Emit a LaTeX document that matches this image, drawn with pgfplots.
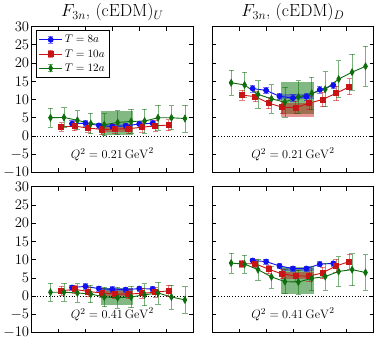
\documentclass[border=0pt]{standalone}
\usepackage{pgfplots}
\pgfplotsset{compat=1.18}
\usepgfplotslibrary{groupplots}
\definecolor{cb}{HTML}{1010F0}
\definecolor{cr}{HTML}{C81414}
\definecolor{cg}{HTML}{0E6E0E}
\definecolor{gband}{HTML}{2E8B2E}
\pgfplotsset{
  ebar/.style={error bars/.cd, y dir=both, y explicit,
    error bar style={line width=0.7pt, opacity=0.55},
    error mark options={rotate=90, mark size=2.6pt, line width=0.7pt, opacity=0.55}},
  s8/.style={color=cb, mark=*, mark size=2.4pt, line width=0.9pt, mark options={solid}, ebar},
  s10/.style={color=cr, mark=square*, mark size=2.5pt, line width=0.9pt, mark options={solid}, ebar},
  s12/.style={color=cg, mark=diamond*, mark size=3.2pt, line width=0.9pt, mark options={solid, xscale=0.75}, ebar},
  bandg/.style={fill=gband, fill opacity=0.6, draw=none, forget plot},
  bandr/.style={fill=cr, fill opacity=0.45, draw=none, forget plot},
  bandb/.style={fill=cb, fill opacity=0.35, draw=none, forget plot},
  zl/.style={black, dotted, line width=0.8pt, forget plot},
}
\tikzset{ql/.style={font=\fontsize{12.5}{14}\selectfont}}
\begin{document}
\begin{tikzpicture}
\begin{groupplot}[
  group style={group size=2 by 2, horizontal sep=19bp, vertical sep=14bp,
    y descriptions at=edge left},
  scale only axis, width=158bp, height=143bp,
  xmin=0, xmax=6, ymin=-10, ymax=30,
  xtick={1,2,3,4,5}, xticklabels={},
  ytick={-10,-5,0,5,10,15,20,25,30},
  tick align=inside, major tick length=4pt,
  tick style={black, line width=0.6pt},
  axis line style={line width=0.8pt},
  tick label style={font=\fontsize{13.5}{15}\selectfont},
  yticklabel style={xshift=1pt},
  title style={font=\fontsize{17}{20}\selectfont, yshift=-4pt},
  legend style={at={(0.025,0.975)}, anchor=north west, draw=black, line width=0.8pt,
    font=\fontsize{11}{13}\selectfont, row sep=1pt, inner sep=2.5pt},
  legend cell align=left,
  legend image code/.code={
    \draw[#1, mark=none] (0cm,0cm) -- (0.8cm,0cm);
    \draw[#1, mark=none, opacity=0.55, line width=0.7pt] (0.4cm,-0.12cm) -- (0.4cm,0.12cm);
    \draw[#1, mark=none, opacity=0.55, line width=0.7pt] (0.32cm,0.12cm) -- (0.48cm,0.12cm) (0.32cm,-0.12cm) -- (0.48cm,-0.12cm);
    \draw[#1] plot coordinates {(0.4cm,0cm)};
  },
]
% ---- top left: (cEDM)_U, Q^2 = 0.21
\nextgroupplot[title={$F_{3n}$, $(\mathrm{cEDM})_U$}]
\addplot[bandg] coordinates {(2.57,0.3) (3.77,0.3) (3.77,6.8) (2.57,6.8)} -- cycle;
\addplot[bandr] coordinates {(2.57,1.0) (3.77,1.0) (3.77,2.6) (2.57,2.6)} -- cycle;
\addplot[bandb] coordinates {(2.57,2.5) (3.77,2.5) (3.77,3.2) (2.57,3.2)} -- cycle;
\addplot[zl] coordinates {(0,0) (6,0)};
\addplot[s8] table[x=x, y=y, y error=e] {
x y e
1.5 3.4 0.8
2.0 3.5 0.8
2.5 2.9 0.7
3.0 2.6 0.7
3.5 2.8 0.7
4.0 3.3 0.8
4.5 3.5 0.9
};
\addlegendentry{$T=8a$}
\addplot[s10] table[x=x, y=y, y error=e] {
x y e
1.1 2.5 1.2
1.6 2.7 1.2
2.1 2.2 1.2
2.6 1.8 1.3
3.1 1.9 1.3
3.6 2.0 1.3
4.1 2.4 1.3
4.6 2.8 1.4
5.1 3.0 1.5
};
\addlegendentry{$T=10a$}
\addplot[s12] table[x=x, y=y, y error=e] {
x y e
0.7 5.0 2.6
1.2 5.1 2.7
1.7 4.3 2.6
2.2 3.4 2.8
2.7 3.1 3.0
3.2 3.7 3.2
3.7 4.0 3.3
4.2 4.1 3.3
4.7 5.0 3.4
5.2 5.0 3.3
5.7 4.8 3.7
};
\addlegendentry{$T=12a$}
\node[ql] at (axis cs:3,-5) {$Q^2=0.21\,\mathrm{GeV}^2$};

% ---- top right: (cEDM)_D, Q^2 = 0.21
\nextgroupplot[title={$F_{3n}$, $(\mathrm{cEDM})_D$}]
\addplot[bandg] coordinates {(2.57,6.0) (3.77,6.0) (3.77,14.8) (2.57,14.8)} -- cycle;
\addplot[bandr] coordinates {(2.57,5.3) (3.77,5.3) (3.77,9.0) (2.57,9.0)} -- cycle;
\addplot[bandb] coordinates {(2.57,10.2) (3.77,10.2) (3.77,11.5) (2.57,11.5)} -- cycle;
\addplot[zl] coordinates {(0,0) (6,0)};
\addplot[s8] table[x=x, y=y, y error=e] {
x y e
1.5 13.0 0.9
2.0 12.5 0.9
2.5 10.9 0.9
3.0 10.4 0.9
3.5 10.8 0.9
4.0 12.7 0.9
4.5 13.9 0.9
};
\addplot[s10] table[x=x, y=y, y error=e] {
x y e
1.1 11.2 1.3
1.6 10.8 1.4
2.1 9.0 1.5
2.6 7.9 1.7
3.1 7.8 1.7
3.6 9.0 1.8
4.1 10.0 2.0
4.6 11.7 2.0
5.1 13.5 2.2
};
\addplot[s12] table[x=x, y=y, y error=e] {
x y e
0.7 14.6 3.4
1.2 14.0 3.5
1.7 11.4 3.8
2.2 10.2 3.9
2.7 9.3 4.1
3.2 10.7 4.5
3.7 11.7 4.5
4.2 12.8 4.8
4.7 15.6 5.0
5.2 17.5 5.0
5.7 19.1 5.5
};
\node[ql] at (axis cs:3,-5) {$Q^2=0.21\,\mathrm{GeV}^2$};

% ---- bottom left: (cEDM)_U, Q^2 = 0.41
\nextgroupplot
\addplot[bandg] coordinates {(2.57,-2.5) (3.77,-2.5) (3.77,2.3) (2.57,2.3)} -- cycle;
\addplot[bandr] coordinates {(2.57,0.1) (3.77,0.1) (3.77,1.5) (2.57,1.5)} -- cycle;
\addplot[bandb] coordinates {(2.57,1.5) (3.77,1.5) (3.77,2.2) (2.57,2.2)} -- cycle;
\addplot[zl] coordinates {(0,0) (6,0)};
\addplot[s8] table[x=x, y=y, y error=e] {
x y e
1.5 2.4 0.7
2.0 2.7 0.7
2.5 2.1 0.7
3.0 1.9 0.7
3.5 1.8 0.7
4.0 2.1 0.7
4.5 2.0 0.7
};
\addplot[s10] table[x=x, y=y, y error=e] {
x y e
1.1 1.5 1.2
1.6 1.9 1.2
2.1 1.3 1.2
2.6 0.9 1.3
3.1 0.6 1.3
3.6 0.6 1.3
4.1 0.8 1.4
4.6 1.1 1.4
5.1 1.5 1.5
};
\addplot[s12] table[x=x, y=y, y error=e] {
x y e
0.7 1.1 2.5
1.2 1.1 2.4
1.7 0.9 2.5
2.2 0.6 2.4
2.7 -0.2 2.7
3.2 -0.4 2.8
3.7 -0.2 2.9
4.2 0.4 3.0
4.7 0.9 3.0
5.2 -0.2 3.3
5.7 -1.0 3.6
};
\node[ql] at (axis cs:3,-5) {$Q^2=0.41\,\mathrm{GeV}^2$};

% ---- bottom right: (cEDM)_D, Q^2 = 0.41
\nextgroupplot
\addplot[bandg] coordinates {(2.57,0.6) (3.77,0.6) (3.77,8.0) (2.57,8.0)} -- cycle;
\addplot[bandr] coordinates {(2.57,4.8) (3.77,4.8) (3.77,6.6) (2.57,6.6)} -- cycle;
\addplot[bandb] coordinates {(2.57,7.0) (3.77,7.0) (3.77,7.8) (2.57,7.8)} -- cycle;
\addplot[zl] coordinates {(0,0) (6,0)};
\addplot[s8] table[x=x, y=y, y error=e] {
x y e
1.5 9.8 0.7
2.0 9.5 0.7
2.5 8.3 0.7
3.0 7.6 0.7
3.5 7.6 0.7
4.0 8.8 0.7
4.5 9.0 0.7
};
\addplot[s10] table[x=x, y=y, y error=e] {
x y e
1.1 8.9 1.0
1.6 8.9 1.1
2.1 7.4 1.2
2.6 6.1 1.3
3.1 5.6 1.4
3.6 5.5 1.5
4.1 6.4 1.6
4.6 8.3 1.8
5.1 9.5 2.0
};
\addplot[s12] table[x=x, y=y, y error=e] {
x y e
0.7 9.1 2.7
1.2 8.8 2.4
1.7 7.3 2.9
2.2 5.3 3.0
2.7 4.0 3.3
3.2 3.9 3.3
3.7 4.9 3.4
4.2 5.4 3.7
4.7 6.8 4.0
5.2 7.3 4.4
5.7 6.5 4.9
};
\node[ql] at (axis cs:3,-5) {$Q^2=0.41\,\mathrm{GeV}^2$};
\end{groupplot}
\end{tikzpicture}
\end{document}
